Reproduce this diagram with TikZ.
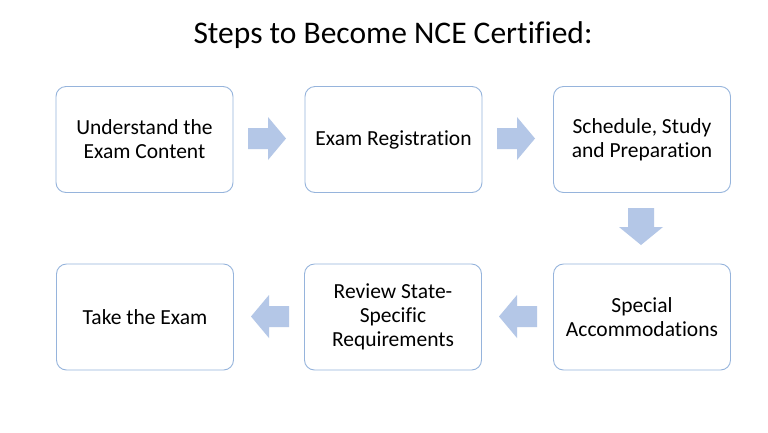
\documentclass[tikz,border=0pt]{standalone}
\usepackage{fontspec}
\setmainfont[Ligatures=NoCommon]{Carlito}
\definecolor{boxline}{RGB}{150,180,220}
\definecolor{arrowfill}{RGB}{180,199,231}
\begin{document}
\begin{tikzpicture}[x=1pt,y=-1pt,
  stepbox/.style={draw=boxline,line width=0.9pt,rounded corners=10pt,fill=white,
    minimum width=177pt,minimum height=106pt,align=center,font=\fontsize{21.5}{24}\selectfont,inner sep=2pt},
  blockarrow/.style={fill=arrowfill,draw=none}]
\useasboundingbox (0,0) rectangle (768,432);
\fill[white] (0,0) rectangle (768,432);
\node[font=\fontsize{31.5}{36}\selectfont] (title) at (393,35) {Steps to Become NCE Certified:};
\node[stepbox] (b1) at (144.5,139.5) {Understand the\\Exam Content};
\node[stepbox] (b2) at (393.5,139.5) {Exam Registration};
\node[stepbox] (b3) at (642,139.5) {Schedule, Study\\and Preparation};
\node[stepbox] (b4) at (642,317) {Special\\Accommodations};
\node[stepbox] (b5) at (393,317) {Review State-\\Specific\\Requirements};
\node[stepbox] (b6) at (145,317) {Take the Exam};
% right arrows
\foreach \x in {248,497}{
  \fill[blockarrow,shift={(\x,138.5)}] (0,-10.5) -- (20,-10.5) -- (20,-21.5) -- (38,0) -- (20,21.5) -- (20,10.5) -- (0,10.5) -- cycle;
}
% down arrow
\fill[blockarrow,shift={(641,208)}] (-13,0) -- (13,0) -- (13,19) -- (22,19) -- (0,37) -- (-22,19) -- (-13,19) -- cycle;
% left arrows
\foreach \x in {251,499}{
  \fill[blockarrow,shift={(\x,316.5)}] (0,0) -- (18,-21.5) -- (18,-10.5) -- (38,-10.5) -- (38,10.5) -- (18,10.5) -- (18,21.5) -- cycle;
}
\end{tikzpicture}
\end{document}
